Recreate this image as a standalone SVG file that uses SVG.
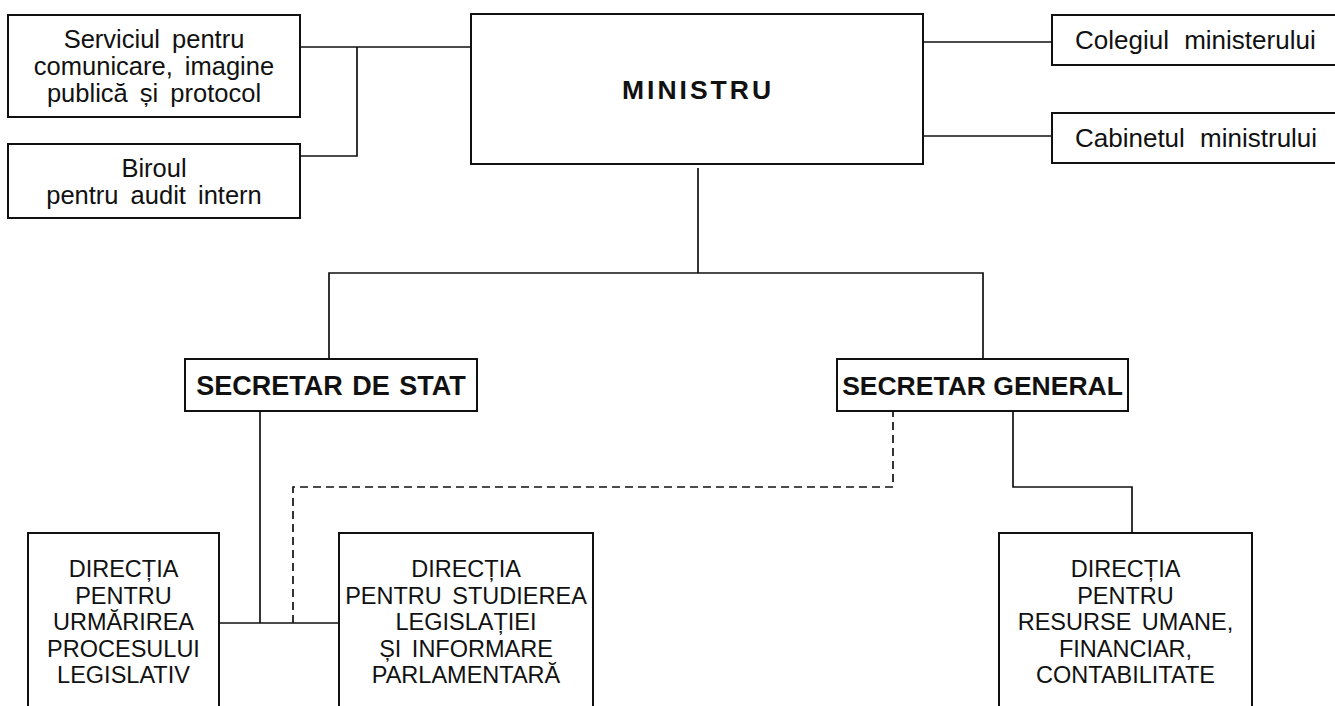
<svg xmlns="http://www.w3.org/2000/svg" width="1335" height="706" viewBox="0 0 1335 706">
<style>
.box{fill:#fff;stroke:#111;stroke-width:2}
.ln{fill:none;stroke:#111;stroke-width:1.7}
.dash{fill:none;stroke:#111;stroke-width:1.7;stroke-dasharray:8 5}
.t{font-family:"Liberation Sans",Arial,sans-serif;font-size:25.5px;fill:#111;text-anchor:middle;word-spacing:5px}
.r{font-family:"Liberation Sans",Arial,sans-serif;font-size:26px;fill:#111;word-spacing:8px}
.s{font-family:"Liberation Sans",Arial,sans-serif;font-size:23.5px;fill:#111;text-anchor:middle;word-spacing:4px}
.b{font-family:"Liberation Sans",Arial,sans-serif;font-size:26.5px;font-weight:bold;fill:#111;text-anchor:middle}
</style>
<rect width="1335" height="706" fill="#fff"/>
<g id="connectors">
<path class="ln" d="M300 47H472M357 47V156H300"/>
<path class="ln" d="M923 42H1052M923 136H1052"/>
<path class="ln" d="M698 168V273M329 359V273H983V359"/>
<path class="ln" d="M260 411V623M219 623H339"/>
<path class="dash" d="M293 623V487H893V411"/>
<path class="ln" d="M1013 411V487H1132V533"/>
</g>
<g id="serviciul">
<rect class="box" x="8" y="15" width="292" height="102"/>
<text class="t" x="154" y="48">Serviciul pentru</text>
<text class="t" x="154" y="75">comunicare, imagine</text>
<text class="t" x="154" y="102">publică și protocol</text>
</g>
<g id="biroul">
<rect class="box" x="8" y="144" width="292" height="74"/>
<text class="t" x="154" y="177">Biroul</text>
<text class="t" x="154" y="204">pentru audit intern</text>
</g>
<g id="ministru">
<rect class="box" x="471" y="14" width="452" height="150"/>
<text class="b" x="698" y="99" style="letter-spacing:3px">MINISTRU</text>
</g>
<g id="colegiul">
<rect class="box" x="1052" y="15" width="300" height="50"/>
<text class="r" x="1075" y="49">Colegiul ministerului</text>
</g>
<g id="cabinetul">
<rect class="box" x="1052" y="113" width="300" height="50"/>
<text class="r" x="1075" y="147">Cabinetul ministrului</text>
</g>
<g id="secretar-stat">
<rect class="box" x="185" y="359" width="292" height="52"/>
<text class="b" x="331" y="395" style="font-size:27px;word-spacing:2px">SECRETAR DE STAT</text>
</g>
<g id="secretar-general">
<rect class="box" x="837" y="359" width="291" height="52"/>
<text class="b" x="982.5" y="395">SECRETAR GENERAL</text>
</g>
<g id="directia-urmarire">
<rect class="box" x="28" y="533" width="191" height="190"/>
<text class="s" x="123.5" y="577">DIRECȚIA</text>
<text class="s" x="123.5" y="604">PENTRU</text>
<text class="s" x="123.5" y="630">URMĂRIREA</text>
<text class="s" x="123.5" y="657">PROCESULUI</text>
<text class="s" x="123.5" y="683">LEGISLATIV</text>
</g>
<g id="directia-studiere">
<rect class="box" x="339" y="533" width="254" height="190"/>
<text class="s" x="466" y="577">DIRECȚIA</text>
<text class="s" x="466" y="604">PENTRU STUDIEREA</text>
<text class="s" x="466" y="630">LEGISLAȚIEI</text>
<text class="s" x="466" y="657">ȘI INFORMARE</text>
<text class="s" x="466" y="683">PARLAMENTARĂ</text>
</g>
<g id="directia-resurse">
<rect class="box" x="999" y="533" width="253" height="190"/>
<text class="s" x="1125.5" y="577">DIRECȚIA</text>
<text class="s" x="1125.5" y="604">PENTRU</text>
<text class="s" x="1125.5" y="630">RESURSE UMANE,</text>
<text class="s" x="1125.5" y="657">FINANCIAR,</text>
<text class="s" x="1125.5" y="683">CONTABILITATE</text>
</g>
</svg>
